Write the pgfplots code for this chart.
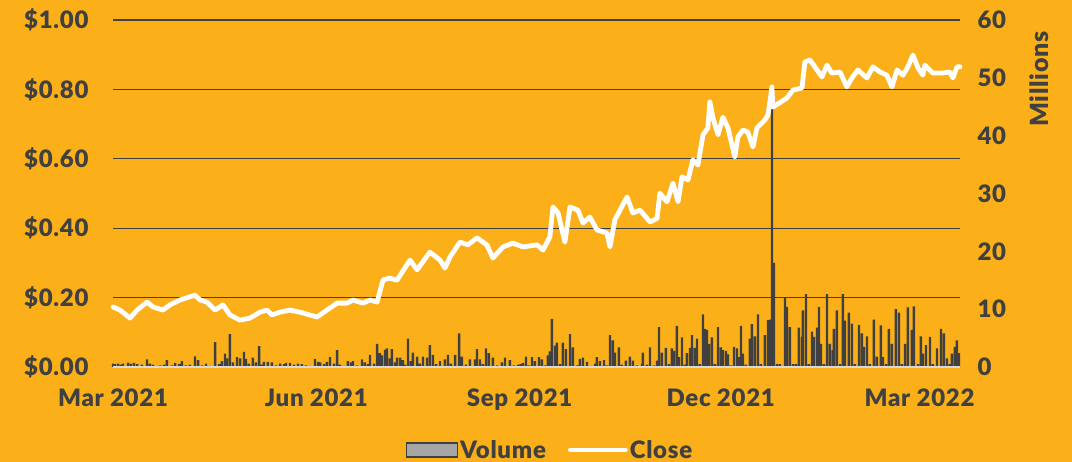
\documentclass[border=0pt]{standalone}
\usepackage{pgfplots}
\pgfplotsset{compat=1.18}
\usepackage{fontspec}
\setmainfont{Lato}[BoldFont={Lato Black}, LetterSpace=3]
\definecolor{bg}{RGB}{251,176,26}
\definecolor{dk}{RGB}{64,64,64}
\definecolor{lg}{RGB}{217,217,217}
\definecolor{legbox}{RGB}{166,166,166}
\newcommand{\chfont}{\fontsize{24}{24}\selectfont\bfseries}
\begin{document}
\begin{tikzpicture}
\fill[bg] (0,0) rectangle (1072pt,462pt);
\useasboundingbox (0,0) rectangle (1072pt,462pt);
% Volume axis (right)
\begin{axis}[at={(113pt,95pt)}, anchor=south west, scale only axis,
  width=847pt, height=347pt, xmin=0, xmax=383.3, ymin=0, ymax=60,
  axis line style={draw=none}, major tick length=0pt, xtick=\empty,
  ytick={0,10,...,60}, yticklabels={0,10,20,30,40,50,60},
  yticklabel pos=right,
  yticklabel style={font=\chfont, text=dk, anchor=west, xshift=14pt},
  ylabel={Millions}, ylabel style={font=\fontsize{25}{25}\selectfont\bfseries, text=dk, at={(rel axis cs:1.0933,0.83)}, anchor=center},
  clip=false]
\addplot[ybar, bar width=2.4pt, fill=dk, draw=none] coordinates {
(0,0.6)(0.9,0.5)(2.3,0.6)(3.6,0.4)(4.5,0.6)(6.8,0.75)(8.1,0.6)(9.5,0.7)(10.9,0.5)(13.1,0.4)
(15.4,1.3)(16.7,0.6)(18.1,0.4)(19.9,0.2)(21.3,0.3)(23.1,0.4)(24.4,1.2)(26.7,0.3)(28.1,0.7)(29.9,0.5)
(31.2,1.0)(33.0,0.3)(34.8,0.4)(37.1,1.85)(38.5,1.2)(40.3,0.3)(42.1,0.6)(43.9,0.2)(46.2,4.3)(48.0,0.5)
(49.3,1.0)(50.7,2.3)(51.6,1.5)(52.9,5.7)(54.3,0.8)(56.1,1.7)(57.5,1.5)(59.3,2.6)(60.2,1.4)(61.5,0.6)
(63.3,1.6)(64.7,0.8)(66.1,3.6)(67.4,0.4)(68.3,0.9)(70.1,0.9)(71.9,0.8)(73.8,0.3)(75.6,0.6)(77.4,0.5)
(78.3,0.7)(80.1,0.7)(81.9,0.4)(83.7,0.6)(85.5,0.5)(87.3,0.3)(89.1,0.2)(91.4,1.4)(92.8,0.9)(93.7,0.8)
(95.5,0.5)(96.8,0.9)(98.2,1.7)(100.0,0.6)(101.4,2.9)(102.7,0.4)(104.5,0.2)(106.3,1.0)(107.7,0.8)(108.6,1.0)
(110.4,0.3)(112.7,1.3)(114.0,0.8)(115.4,0.5)(116.3,2.1)(118.1,0.6)(119.5,4.0)(120.8,2.4)(121.7,2.0)(123.1,3.0)
(124.0,3.2)(125.3,1.5)(126.2,3.1)(127.6,0.8)(128.5,1.6)(129.9,1.6)(131.2,1.2)(132.1,0.4)(133.5,4.9)(134.8,1.0)
(135.7,2.5)(137.6,1.8)(138.9,0.6)(140.3,1.8)(142.1,1.6)(143.4,3.8)(144.8,2.1)(146.2,0.5)(148.0,1.0)(150.2,1.3)
(151.6,2.1)(152.9,0.6)(154.8,2.1)(156.6,5.8)(157.9,1.8)(159.7,0.4)(161.5,1.3)(163.8,1.3)(164.7,3.1)(166.1,1.3)
(167.4,0.5)(168.8,3.2)(170.1,2.4)(171.9,1.6)(173.8,0.3)(176.0,0.8)(177.4,1.6)(179.6,1.2)(181.4,0.3)(183.3,0.4)
(184.6,0.5)(185.5,0.7)(186.9,1.8)(188.2,0.3)(189.6,1.7)(190.9,1.0)(192.8,1.7)(194.1,1.3)(195.5,0.3)(196.8,2.0)
(197.7,2.7)(198.6,8.3)(200.0,3.7)(200.9,4.2)(202.3,0.5)(203.6,4.2)(205.0,3.1)(206.8,5.7)(208.1,3.4)(210.0,0.3)
(211.3,1.4)(212.7,1.6)(214.5,0.9)(216.3,0.2)(218.1,0.6)(219.0,1.7)(220.4,1.0)(222.2,1.2)(223.5,0.3)(224.9,5.5)
(226.2,4.6)(227.1,2.5)(228.9,3.4)(230.3,0.4)(232.1,1.1)(233.9,1.8)(235.3,1.1)(237.1,0.3)(239.4,0.6)(239.8,2.5)
(241.6,0.4)(243.0,3.4)(244.8,0.3)(246.2,1.1)(247.1,6.9)(248.4,2.5)(250.2,3.3)(251.6,0.5)(252.9,3.2)(253.8,2.8)
(255.2,7.1)(256.1,1.7)(257.5,5.1)(258.8,0.4)(259.7,2.4)(261.1,3.3)(262.0,5.5)(263.3,3.3)(264.3,4.9)(265.6,0.5)
(267.0,9.1)(267.9,6.6)(268.8,6.4)(269.7,4.0)(271.0,5.1)(272.4,0.5)(273.8,6.9)(275.1,3.4)(276.0,2.9)(277.4,2.8)
(278.3,2.2)(279.6,0.3)(281.0,3.5)(282.4,3.2)(283.3,1.7)(284.2,7.1)(285.1,2.3)(286.4,0.4)(288.2,4.9)(289.1,7.4)
(290.5,5.3)(291.9,9.1)(293.2,0.5)(295.0,5.5)(296.4,8.1)(297.3,8.2)(298.2,47.9)(299.1,18.0)(300.5,0.5)(301.8,0.5)
(304.1,12.0)(305.0,10.4)(306.3,6.9)(307.7,0.5)(309.0,0.5)(310.4,6.8)(311.8,5.2)(312.2,9.8)(313.6,12.6)(314.9,0.5)
(316.3,6.1)(317.2,5.2)(318.6,6.8)(319.5,10.4)(320.4,4.0)(321.7,0.5)(323.1,12.6)(324.4,4.0)(325.8,2.9)(326.2,6.6)
(327.6,9.8)(329.0,0.5)(330.3,12.6)(331.2,8.0)(333.0,9.4)(334.4,7.5)(335.7,0.5)(337.6,7.3)(338.9,5.8)(339.8,3.5)
(341.2,5.3)(342.5,0.5)(344.3,8.2)(345.7,1.8)(347.5,7.2)(348.4,1.7)(349.8,0.5)(351.1,6.6)(352.5,4.0)(354.3,10.0)
(355.7,9.4)(357.0,0.5)(358.4,4.0)(359.7,10.3)(361.5,6.4)(362.4,10.5)(364.3,0.5)(365.6,5.3)(366.5,2.3)(367.9,3.8)
(369.7,5.2)(371.0,0.5)(372.9,3.2)(374.7,6.6)(376.0,5.8)(377.4,1.5)(378.7,0.5)(379.6,2.3)(381.0,3.5)(381.9,4.6)
(382.8,2.4)
};
\end{axis}
% Close axis (left)
\begin{axis}[at={(113pt,95pt)}, anchor=south west, scale only axis,
  width=847pt, height=347pt, xmin=0, xmax=383.3, ymin=0, ymax=1,
  axis line style={draw=none}, major tick length=0pt,
  xtick={0,92,184,275,365},
  xticklabels={Mar 2021,Jun 2021,Sep 2021,Dec 2021,Mar 2022},
  xticklabel style={font=\chfont, text=dk, anchor=north, yshift=-18pt},
  ytick={0.2,0.4,0.6,0.8,1.0},
  yticklabels={\$0.20,\$0.40,\$0.60,\$0.80,\$1.00},
  extra y ticks={0}, extra y tick labels={\$0.00},
  extra y tick style={grid style={lg, line width=2.2pt}},
  ymajorgrids, grid style={dk, line width=1.3pt},
  yticklabel style={font=\chfont, text=dk, anchor=east, xshift=-21pt},
  legend columns=2,
  legend style={draw=none, fill=none, font=\chfont, text=dk,
    at={(rel axis cs:0.516,-0.239)}, anchor=center,
    /tikz/every even column/.append style={column sep=20pt}},
  clip=false]
\addlegendimage{legend image code/.code={\draw[fill=legbox, draw=dk, line width=1.2pt] (0pt,-7pt) rectangle (51pt,7pt);}}
\addlegendentry{Volume}
\addplot[white, line width=4.8pt, line join=round, line cap=round,
  legend image code/.code={\draw[white, line width=4.8pt, line cap=round] (0pt,0pt) -- (55pt,0pt);}] coordinates {
(0,0.173)(3.2,0.164)(7.7,0.141)(10.9,0.164)(15.4,0.187)(18.1,0.173)(22.6,0.164)(25.8,0.179)(30.3,0.193)(37.1,0.207)
(39.4,0.193)(42.5,0.187)(46.2,0.164)(49.8,0.179)(52.9,0.150)(57.5,0.135)(62.0,0.141)(66.5,0.158)(69.7,0.164)(71.9,0.150)
(75.6,0.158)(80.1,0.164)(84.6,0.158)(92.3,0.144)(96.8,0.164)(101.4,0.184)(105.9,0.184)(108.6,0.193)(113.1,0.184)(116.3,0.193)
(119.5,0.187)(122.2,0.251)(125.3,0.256)(128.5,0.250)(134.4,0.308)(137.6,0.280)(143.4,0.331)(148.0,0.308)(150.2,0.285)(152.5,0.317)
(157.0,0.360)(160.6,0.352)(164.7,0.372)(169.2,0.352)(171.9,0.314)(176.5,0.346)(181.0,0.357)(185.5,0.346)(191.9,0.352)(194.6,0.337)
(197.7,0.375)(199.1,0.461)(201.4,0.444)(204.5,0.360)(206.8,0.461)(210.4,0.452)(212.7,0.415)(215.8,0.432)(219.0,0.395)(223.5,0.386)
(224.9,0.346)(227.1,0.424)(232.6,0.490)(235.3,0.444)(238.5,0.452)(243.0,0.418)(246.2,0.428)(247.5,0.501)(250.7,0.476)(253.4,0.530)
(255.7,0.476)(257.5,0.548)(260.2,0.539)(262.4,0.597)(264.7,0.582)(267.0,0.669)(269.2,0.689)(270.1,0.764)(271.5,0.718)(273.8,0.669)
(276.0,0.720)(278.3,0.689)(281.4,0.605)(282.8,0.663)(285.1,0.683)(287.3,0.677)(289.6,0.634)(291.4,0.689)(295.0,0.712)(296.4,0.726)
(298.2,0.807)(298.6,0.749)(305.0,0.775)(307.7,0.798)(311.8,0.804)(313.1,0.879)(315.4,0.885)(318.6,0.856)(320.8,0.836)(323.1,0.870)
(325.3,0.847)(329.0,0.850)(332.1,0.807)(334.4,0.833)(337.1,0.856)(341.2,0.833)(343.9,0.865)(347.1,0.850)(350.2,0.841)(352.5,0.807)
(354.8,0.856)(357.5,0.841)(359.7,0.865)(362.0,0.899)(364.3,0.862)(366.5,0.841)(367.4,0.870)(371.0,0.847)(375.1,0.847)(378.7,0.850)
(380.1,0.833)(381.9,0.865)(383.3,0.865)
};
\addlegendentry{Close}
\end{axis}
\end{tikzpicture}
\end{document}
